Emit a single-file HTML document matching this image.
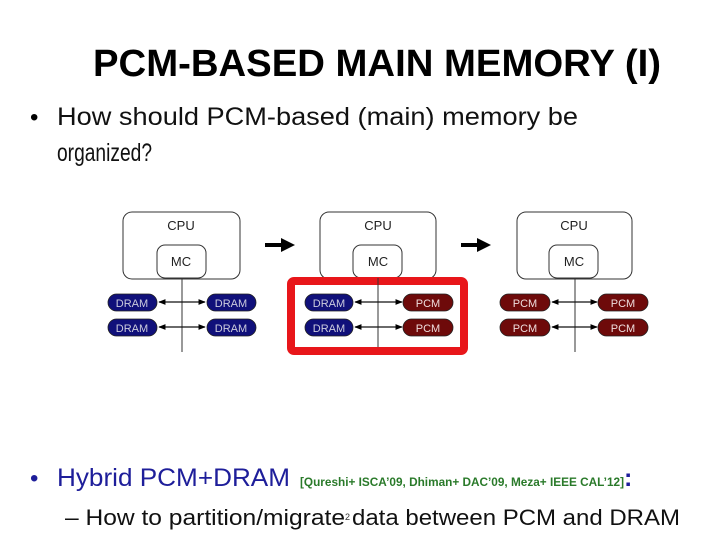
<!DOCTYPE html>
<html><head><meta charset="utf-8"><style>
html,body{margin:0;padding:0;background:#fff;}
svg{display:block;}
text{font-family:"Liberation Sans",sans-serif;}
</style></head><body>
<svg width="720" height="540" viewBox="0 0 720 540" xmlns="http://www.w3.org/2000/svg">
<defs>
<marker id="ah" viewBox="0 0 10 10" refX="9" refY="5" markerWidth="6" markerHeight="6" orient="auto-start-reverse"><path d="M0,1 L10,5 L0,9 z" fill="#000"/></marker>
</defs>
<text x="93" y="76" font-size="38" font-weight="bold" textLength="568" lengthAdjust="spacingAndGlyphs" fill="#000">PCM-BASED MAIN MEMORY (I)</text>
<text x="30" y="125" font-size="24" fill="#000">•</text>
<text x="57" y="125" font-size="25" textLength="521" lengthAdjust="spacingAndGlyphs" fill="#111">How should PCM-based (main) memory be</text>
<text x="57" y="161" font-size="25" textLength="95" lengthAdjust="spacingAndGlyphs" fill="#111">organized?</text>

<!-- Diagram 1 -->
<g stroke="#333" stroke-width="1" fill="#fff">
<rect x="123" y="212" width="117" height="67" rx="9"/>
<rect x="157" y="245" width="49" height="33" rx="8"/>
<rect x="320" y="212" width="116" height="67" rx="9"/>
<rect x="353" y="245" width="49" height="33" rx="8"/>
<rect x="517" y="212" width="115" height="67" rx="9"/>
<rect x="549" y="245" width="49" height="33" rx="8"/>
</g>
<g font-size="13" fill="#222" text-anchor="middle">
<text x="181" y="230">CPU</text><text x="181" y="266">MC</text>
<text x="378" y="230">CPU</text><text x="378" y="266">MC</text>
<text x="574" y="230">CPU</text><text x="574" y="266">MC</text>
</g>
<rect x="291" y="281" width="173" height="70" fill="none" stroke="#e8161a" stroke-width="8" rx="3"/>
<g stroke="#333" stroke-width="1">
<line x1="182" y1="278" x2="182" y2="352"/>
<line x1="378" y1="278" x2="378" y2="347"/>
<line x1="575" y1="278" x2="575" y2="352"/>
</g>
<g stroke="#111" stroke-width="1.2" marker-start="url(#ah)" marker-end="url(#ah)">
<line x1="159" y1="302" x2="205" y2="302"/><line x1="159" y1="327" x2="205" y2="327"/>
<line x1="355" y1="302" x2="402" y2="302"/><line x1="355" y1="327" x2="402" y2="327"/>
<line x1="552" y1="302" x2="597" y2="302"/><line x1="552" y1="327" x2="597" y2="327"/>
</g>
<g stroke="#222" stroke-width="0.8">
<rect x="108" y="294" width="49" height="17" rx="8.5" fill="#10107a"/>
<rect x="207" y="294" width="49" height="17" rx="8.5" fill="#10107a"/>
<rect x="108" y="319" width="49" height="17" rx="8.5" fill="#10107a"/>
<rect x="207" y="319" width="49" height="17" rx="8.5" fill="#10107a"/>
<rect x="305" y="294" width="48" height="17" rx="8.5" fill="#10107a"/>
<rect x="305" y="319" width="48" height="17" rx="8.5" fill="#10107a"/>
<rect x="403" y="294" width="50" height="17" rx="8.5" fill="#6e0a0a"/>
<rect x="403" y="319" width="50" height="17" rx="8.5" fill="#6e0a0a"/>
<rect x="500" y="294" width="50" height="17" rx="8.5" fill="#6e0a0a"/>
<rect x="500" y="319" width="50" height="17" rx="8.5" fill="#6e0a0a"/>
<rect x="598" y="294" width="50" height="17" rx="8.5" fill="#6e0a0a"/>
<rect x="598" y="319" width="50" height="17" rx="8.5" fill="#6e0a0a"/>
</g>
<g font-size="11" fill="#ccd" text-anchor="middle">
<text x="132" y="307">DRAM</text><text x="231" y="307">DRAM</text>
<text x="132" y="332">DRAM</text><text x="231" y="332">DRAM</text>
<text x="329" y="307">DRAM</text><text x="329" y="332">DRAM</text>
</g>
<g font-size="11" fill="#eedddd" text-anchor="middle">
<text x="428" y="307">PCM</text><text x="428" y="332">PCM</text>
<text x="525" y="307">PCM</text><text x="525" y="332">PCM</text>
<text x="623" y="307">PCM</text><text x="623" y="332">PCM</text>
</g>
<!-- transition arrows -->
<g fill="#000">
<rect x="265" y="243" width="18" height="4"/><path d="M281,238 L295,245 L281,252 z"/>
<rect x="461" y="243" width="18" height="4"/><path d="M477,238 L491,245 L477,252 z"/>
</g>

<text x="30" y="486" font-size="24" fill="#1e1e9a">•</text>
<text x="57" y="486" font-size="25" textLength="233" lengthAdjust="spacingAndGlyphs" fill="#1e1e9a">Hybrid PCM+DRAM</text>
<text x="300" y="486" font-size="11.5" font-weight="bold" textLength="324" lengthAdjust="spacingAndGlyphs" fill="#2a7a2a">[Qureshi+ ISCA’09, Dhiman+ DAC’09, Meza+ IEEE CAL’12]</text>
<text x="624" y="486" font-size="25" font-weight="bold" fill="#1e1e9a">:</text>
<text x="65" y="525" font-size="22" textLength="280" lengthAdjust="spacingAndGlyphs" fill="#111">– How to partition/migrate</text>
<text x="345" y="520" font-size="9" fill="#333">2</text>
<text x="352" y="525" font-size="22" textLength="328" lengthAdjust="spacingAndGlyphs" fill="#111">data between PCM and DRAM</text>
</svg>
</body></html>
